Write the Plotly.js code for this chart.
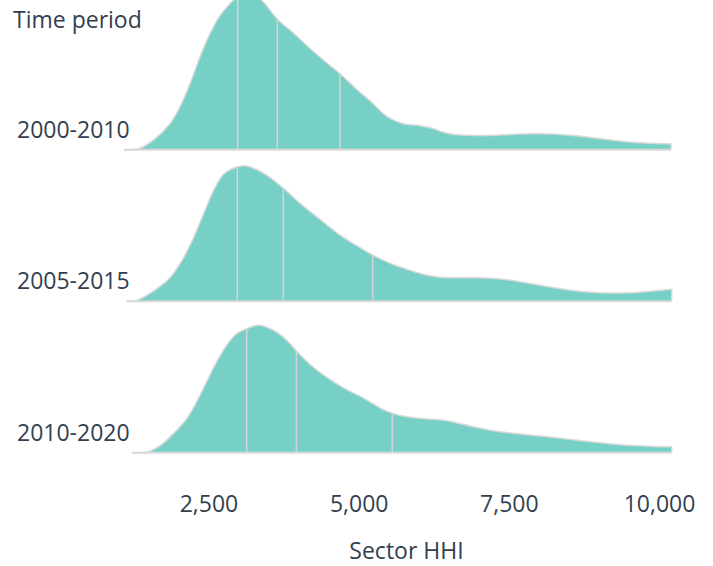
<!DOCTYPE html>
<html>
<head>
<meta charset="utf-8">
<script src="https://cdn.plot.ly/plotly-3.0.1.min.js"></script>
<style>html,body{margin:0;padding:0;background:#fff}#chart{width:713px;height:566px}</style>
</head>
<body>
<div id="chart"></div>
<script>
// ---- data ----
const periods = ['2000-2010', '2005-2015', '2010-2020'];

// Sector HHI grid and relative density, 2000-2010
const hhi2000 = [1085, 1352, 1573, 1851, 2018, 2184, 2351, 2517, 2684, 2850, 3016, 3183, 3399, 3632, 3899, 4132, 4398, 4681, 4947, 5214, 5464, 5730, 6013, 6213, 6429, 6629, 7178, 7594, 8011, 8560, 9009, 9392, 9842, 10191];
const dens2000 = [0, 1.5, 9.5, 26, 43, 66, 93, 116, 134, 146, 155, 158, 148, 131, 117, 104, 90, 76, 61, 47, 33, 26, 24, 21.5, 17, 15, 14.3, 15.5, 16, 14.3, 11, 8.3, 6.5, 6];

// 2005-2015
const hhi2005 = [1130, 1297, 1573, 1851, 2073, 2239, 2406, 2572, 2738, 2905, 3100, 3404, 3737, 4015, 4293, 4681, 5014, 5225, 5513, 5791, 6063, 6346, 6762, 7178, 7461, 7727, 8144, 8560, 8843, 9126, 9392, 9675, 9942, 10203];
const dens2005 = [0, 0.7, 10, 23.4, 43, 63, 86.7, 110, 126.7, 133, 135.5, 128, 113, 98, 84.5, 66, 53.5, 46, 38, 32, 27, 24, 23.5, 23, 21.5, 19, 14.5, 10.6, 9, 8.3, 8.3, 9, 10.5, 12];

// 2010-2020
const hhi2010 = [1214, 1463, 1685, 1906, 2129, 2296, 2462, 2629, 2795, 2961, 3128, 3321, 3571, 3794, 3960, 4115, 4293, 4570, 4793, 5014, 5214, 5402, 5552, 5791, 6096, 6457, 6895, 7345, 8011, 8843, 9392, 9842, 10203];
const dens2010 = [0, 0.5, 7, 19, 34, 51, 71, 91, 107.5, 119, 124, 127.5, 122.5, 112.5, 101.5, 92, 82.7, 71, 63, 56.5, 49.5, 43, 39.5, 36, 34, 32, 26, 21, 16.7, 11, 7.7, 6.5, 6];

// quartiles (Q1, median, Q3)
const quart2000 = [2978, 3637, 4681];
const quart2005 = [2971, 3737, 5225];
const quart2010 = [3128, 3954, 5552];

const xTicks = [2500, 5000, 7500, 10000];

// ---- drawing ----
const hhiList = [hhi2000, hhi2005, hhi2010];
const densList = [dens2000, dens2005, dens2010];
const quartList = [quart2000, quart2005, quart2010];

const FILL = '#76d0c6';
const EDGE = '#d9d9d9';
const QLINE = '#d4d4d4';
const TEXT = '#333f4f';
const SPACING = 151.5, BASE0 = 17.3, SCALE = 1;

function interp(xs, ys, x) {
  for (let k = 0; k < xs.length - 1; k++) {
    if (x >= xs[k] && x <= xs[k + 1]) {
      const t = (x - xs[k]) / (xs[k + 1] - xs[k]);
      return ys[k] + t * (ys[k + 1] - ys[k]);
    }
  }
  return 0;
}

const traces = [];
const annotations = [];
periods.forEach((p, i) => {
  const xs = hhiList[i], ds = densList[i];
  const base = BASE0 + (periods.length - 1 - i) * SPACING;
  const xmin = xs[0], xmax = xs[xs.length - 1];
  // baseline
  traces.push({x: [xmin, xmax], y: [base, base], mode: 'lines', type: 'scatter',
    line: {color: EDGE, width: 2}, hoverinfo: 'skip', showlegend: false});
  // density
  traces.push({x: xs, y: ds.map(d => base + d * SCALE), mode: 'lines', type: 'scatter',
    fill: 'tonexty', fillcolor: FILL, line: {color: EDGE, width: 1.5, shape: 'spline', smoothing: 1},
    name: p, showlegend: false});
  // closing right edge
  traces.push({x: [xmax, xmax], y: [base, base + ds[ds.length - 1] * SCALE], mode: 'lines', type: 'scatter',
    line: {color: EDGE, width: 1.5}, hoverinfo: 'skip', showlegend: false});
  // quartile lines
  quartList[i].forEach(q => {
    traces.push({x: [q, q], y: [base, base + interp(xs, ds, q) * SCALE], mode: 'lines', type: 'scatter',
      line: {color: QLINE, width: 1.5}, hoverinfo: 'skip', showlegend: false});
  });
  annotations.push({text: p, xref: 'paper', yref: 'y', x: (15 - 124) / 565, y: base + 21,
    xanchor: 'left', yanchor: 'middle', showarrow: false, font: {size: 23, color: TEXT}});
});
annotations.push({text: 'Time period', xref: 'paper', yref: 'paper', x: (11 - 124) / 565, y: 1 - 19 / 470,
  xanchor: 'left', yanchor: 'middle', showarrow: false, font: {size: 23, color: TEXT}});

const layout = {
  width: 713, height: 566,
  margin: {l: 124, r: 24, t: 0, b: 96},
  paper_bgcolor: '#fff', plot_bgcolor: '#fff',
  font: {family: '"Open Sans", sans-serif', color: TEXT, size: 23},
  showlegend: false,
  xaxis: {
    range: [1085, 10491], tickvals: xTicks, tickformat: ',', showgrid: false, zeroline: false,
    showline: false, ticks: '', tickfont: {size: 23, color: TEXT}, ticklabelstandoff: 18,
    title: {text: 'Sector HHI', font: {size: 23, color: TEXT}, standoff: 28}
  },
  yaxis: {range: [0, 470], visible: false, fixedrange: true},
  annotations: annotations
};

Plotly.newPlot('chart', traces, layout, {displayModeBar: false, staticPlot: true});
</script>
</body>
</html>
